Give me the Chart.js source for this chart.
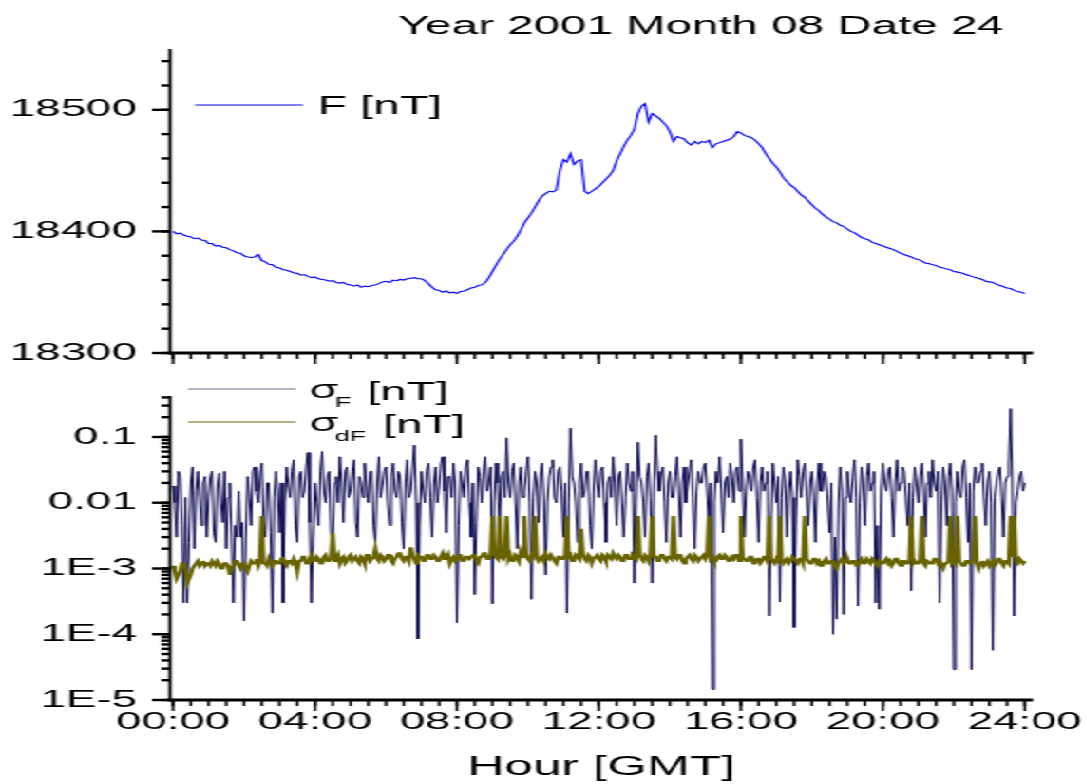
<!DOCTYPE html>
<html><head><meta charset="utf-8">
<script src="https://cdn.jsdelivr.net/npm/chart.js@4.4.1/dist/chart.umd.min.js"></script>
<style>
html,body{margin:0;padding:0;background:#fff;overflow:hidden;width:1087px;height:784px;}
#wrap{position:absolute;left:0;top:0;width:572px;height:784px;transform:scaleX(1.9);transform-origin:0 0;}
#c1{position:absolute;left:0;top:0;}
#c2{position:absolute;left:0;top:375px;}
</style></head><body>
<div id="wrap">
<canvas id="c1" width="572" height="375" style="width:572px;height:375px"></canvas>
<canvas id="c2" width="572" height="409" style="width:572px;height:409px"></canvas>
</div>
<script>
// ---------------- data ----------------
const titleText = 'Year 2001 Month 08 Date 24';
const fStepHours = 0.1;       // F sampled every 6 min, 00:00 .. 24:00
const sigmaStepHours = 0.05;  // sigma series sampled every 3 min, 00:00 .. 24:00

const fTotal = [
18400,18398,18398.5,18397,18396,18395.5,18394,18394.5,18393,18392.5,
18390,18390,18388,18388.5,18387,18386.5,18385,18384,18382.5,18382,
18380,18379,18378.5,18379,18381,18376,18375,18373,18372.5,18370.5,
18370,18368.5,18368,18367,18366,18365.5,18364,18364.5,18363,18362,
18362.5,18361,18360.5,18360,18359,18359.5,18358,18357.5,18358,18356.5,
18356,18355,18356,18354,18355,18354.5,18355.5,18356,18357,18358.5,
18359,18358,18360,18359.5,18360.5,18360,18361,18361.5,18362,18361,
18361,18359.5,18357,18354,18352,18351.5,18350,18351,18349.5,18350,
18349,18350.5,18351,18352,18353.5,18354,18355.5,18356,18358,18362,
18367,18372,18377,18381,18385,18389,18392,18396,18401,18407,
18411,18415,18420,18425,18429,18431,18433,18432.5,18434,18450,
18459,18457,18464,18455,18458,18459,18433,18431,18433,18435,
18437,18440,18443,18446,18450,18458,18464,18470,18475,18479,
18484,18497,18503,18505,18490,18497,18495,18493,18490,18487,
18482,18474,18478,18477,18476,18473,18471,18474,18472,18474,
18473,18475,18469,18472,18473,18474,18475,18476,18478,18482,
18481,18479,18478,18477,18475,18472,18469,18464,18460,18456,
18453,18449,18444,18441,18438,18436,18433,18430,18428,18425,
18422,18419,18417,18414,18412,18410,18408,18407,18405,18404,
18402,18400,18399,18397,18395,18394,18393,18391,18390,18389,
18388,18387,18386,18385,18383.5,18382,18381,18380,18379,18377.5,
18377,18375.5,18374,18373.5,18372.5,18372,18370.5,18370,18369,18368.5,
18367,18366.5,18366,18365,18364,18363,18362,18361.5,18360.5,18359,
18358.5,18358,18356.5,18355.5,18354.5,18353.5,18353,18351.5,18350.5,18350,
18349
];

const sigmaF = [
0.018,0.01,0.003,0.03,0.025,0.0045,0.0003,0.012,0.0003,0.0025,0.02,0.035,0.002,0.015,0.03,0.012,0.0045,0.02,0.025,0.003,
0.012,0.025,0.03,0.0035,0.0025,0.018,0.028,0.01,0.005,0.03,0.002,0.012,0.02,0.003,0.0003,0.0045,0.003,0.015,0.003,0.005,
0.00016,0.003,0.025,0.012,0.0045,0.03,0.035,0.015,0.01,0.025,0.04,0.005,0.003,0.02,0.02,0.0035,0.00021,0.012,0.03,0.015,
0.0035,0.02,0.0003,0.01,0.035,0.018,0.012,0.03,0.045,0.0045,0.0025,0.025,0.03,0.012,0.015,0.035,0.058,0.005,0.0003,0.003,
0.02,0.01,0.0045,0.03,0.06,0.015,0.01,0.025,0.03,0.0035,0.002,0.02,0.025,0.01,0.05,0.02,0.005,0.03,0.035,0.012,
0.015,0.03,0.045,0.005,0.003,0.025,0.02,0.012,0.04,0.018,0.01,0.03,0.03,0.0045,0.0025,0.02,0.05,0.012,0.018,0.03,
0.035,0.01,0.0045,0.025,0.04,0.015,0.012,0.03,0.025,0.005,0.002,0.02,0.045,0.012,0.015,0.035,0.075,0.01,0.000085,0.0045,
0.03,0.015,0.01,0.03,0.04,0.012,0.003,0.02,0.035,0.01,0.018,0.04,0.05,0.015,0.0035,0.025,0.025,0.012,0.04,0.02,
0.00015,0.0045,0.03,0.02,0.012,0.035,0.045,0.01,0.003,0.02,0.0004,0.005,0.035,0.025,0.01,0.03,0.05,0.015,0.02,0.035,
0.00029,0.01,0.04,0.02,0.0045,0.025,0.03,0.012,0.097,0.02,0.012,0.03,0.04,0.01,0.002,0.02,0.035,0.012,0.015,0.03,
0.05,0.01,0.00034,0.012,0.03,0.02,0.005,0.025,0.04,0.012,0.0008,0.01,0.025,0.035,0.045,0.012,0.01,0.03,0.035,0.015,
0.003,0.02,0.00021,0.01,0.136,0.025,0.02,0.01,0.0025,0.02,0.04,0.012,0.015,0.03,0.03,0.0045,0.002,0.015,0.045,0.02,
0.012,0.03,0.035,0.01,0.0025,0.02,0.025,0.012,0.05,0.02,0.0045,0.025,0.03,0.01,0.003,0.012,0.04,0.02,0.015,0.03,
0.0006,0.01,0.083,0.025,0.02,0.01,0.003,0.025,0.04,0.012,0.0006,0.015,0.107,0.03,0.015,0.025,0.035,0.01,0.0025,0.02,
0.03,0.012,0.012,0.025,0.05,0.015,0.003,0.02,0.035,0.01,0.018,0.03,0.045,0.012,0.002,0.015,0.03,0.02,0.02,0.035,
0.04,0.015,0.0045,0.02,0.0000145,0.01,0.03,0.02,0.05,0.015,0.0035,0.02,0.025,0.012,0.04,0.025,0.01,0.03,0.035,0.015,
0.093,0.02,0.003,0.015,0.03,0.025,0.015,0.035,0.045,0.012,0.0025,0.02,0.035,0.015,0.02,0.03,0.00019,0.0045,0.04,0.02,
0.01,0.025,0.00031,0.012,0.035,0.02,0.003,0.015,0.03,0.012,0.000127,0.0045,0.045,0.025,0.012,0.03,0.04,0.015,0.0045,0.02,
0.03,0.012,0.0025,0.02,0.04,0.015,0.015,0.03,0.025,0.01,0.0035,0.02,0.0001,0.003,0.00017,0.01,0.035,0.015,0.0002,0.012,
0.03,0.015,0.01,0.025,0.045,0.012,0.00027,0.01,0.035,0.02,0.0045,0.025,0.04,0.015,0.02,0.03,0.0003,0.0045,0.00024,0.015,
0.04,0.02,0.015,0.03,0.035,0.012,0.003,0.02,0.045,0.015,0.02,0.035,0.03,0.012,0.0045,0.02,0.00046,0.012,0.035,0.02,
0.01,0.025,0.04,0.015,0.003,0.02,0.03,0.012,0.045,0.02,0.015,0.03,0.0003,0.01,0.035,0.02,0.0045,0.025,0.04,0.015,
0.000029,0.01,0.03,0.015,0.012,0.035,0.045,0.012,0.0025,0.02,0.000029,0.015,0.035,0.02,0.02,0.03,0.04,0.012,0.0045,0.02,
0.03,0.01,0.000057,0.012,0.02,0.03,0.035,0.012,0.003,0.02,0.025,0.04,0.27,0.02,0.00019,0.01,0.015,0.025,0.03,0.015,
0.02
];

const sigmaDF = [
0.0011,0.0009,0.0007,0.0008,0.0009,0.0012,0.0012,0.0010,0.0006,0.0007,0.0008,0.0010,0.0011,0.0012,0.0013,0.0011,0.0012,0.0013,0.0011,0.0012,
0.0012,0.0011,0.0013,0.0012,0.0011,0.0013,0.0012,0.0010,0.0010,0.0012,0.0012,0.0011,0.0008,0.0010,0.0011,0.0013,0.0013,0.0011,0.0010,0.0012,
0.0012,0.0010,0.0009,0.0011,0.0013,0.0012,0.0012,0.0014,0.0011,0.0013,0.0063,0.0012,0.0012,0.0011,0.0014,0.0012,0.0011,0.0013,0.0013,0.0012,
0.0012,0.0014,0.0015,0.0012,0.0011,0.0013,0.0013,0.0012,0.0014,0.0012,0.0009,0.0013,0.0013,0.0015,0.0015,0.0012,0.0012,0.0014,0.0016,0.0013,
0.0013,0.0015,0.0014,0.0012,0.0012,0.0015,0.0016,0.0013,0.0013,0.0014,0.0035,0.0013,0.0014,0.0016,0.0012,0.0014,0.0015,0.0012,0.0013,0.0015,
0.0016,0.0013,0.0014,0.0015,0.0013,0.0012,0.0015,0.0014,0.0012,0.0016,0.0016,0.0013,0.0014,0.0015,0.0020,0.0014,0.0013,0.0016,0.0015,0.0013,
0.0014,0.0016,0.0016,0.0013,0.0012,0.0014,0.0015,0.0017,0.0017,0.0014,0.0013,0.0015,0.0015,0.0013,0.0021,0.0016,0.0014,0.0012,0.0016,0.0015,
0.0015,0.0013,0.0013,0.0016,0.0016,0.0014,0.0014,0.0016,0.0015,0.0013,0.0013,0.0015,0.0017,0.0014,0.0014,0.0016,0.0012,0.0014,0.0015,0.0013,
0.0014,0.0016,0.0016,0.0013,0.0013,0.0015,0.0015,0.0014,0.0014,0.0016,0.0016,0.0013,0.0012,0.0015,0.0015,0.0017,0.0017,0.0014,0.0014,0.0016,
0.0063,0.0016,0.0015,0.0014,0.0063,0.0015,0.0014,0.0016,0.0063,0.0014,0.0016,0.0013,0.0013,0.0016,0.0015,0.0013,0.0018,0.0015,0.0063,0.0016,
0.0014,0.0013,0.0016,0.0015,0.0063,0.0016,0.0013,0.0014,0.0015,0.0013,0.0017,0.0015,0.0014,0.0016,0.0016,0.0013,0.0012,0.0015,0.0015,0.0014,
0.0014,0.0016,0.0063,0.0015,0.0016,0.0013,0.0013,0.0016,0.0015,0.0014,0.0040,0.0016,0.0014,0.0013,0.0016,0.0015,0.0012,0.0014,0.0015,0.0016,
0.0014,0.0013,0.0016,0.0015,0.0013,0.0016,0.0015,0.0014,0.0017,0.0015,0.0014,0.0016,0.0015,0.0013,0.0013,0.0016,0.0016,0.0014,0.0014,0.0016,
0.0015,0.0014,0.0063,0.0016,0.0014,0.0013,0.0016,0.0015,0.0013,0.0016,0.0063,0.0015,0.0015,0.0013,0.0014,0.0016,0.0016,0.0014,0.0013,0.0015,
0.0015,0.0014,0.0063,0.0015,0.0014,0.0016,0.0016,0.0013,0.0012,0.0014,0.0015,0.0016,0.0014,0.0013,0.0016,0.0015,0.0013,0.0014,0.0015,0.0016,
0.0014,0.0016,0.0063,0.0014,0.0015,0.0013,0.0013,0.0015,0.0016,0.0014,0.0014,0.0016,0.0015,0.0013,0.0013,0.0015,0.0014,0.0016,0.0016,0.0013,
0.0063,0.0015,0.0014,0.0013,0.0013,0.0015,0.0015,0.0012,0.0012,0.0014,0.0014,0.0012,0.0013,0.0015,0.0015,0.0013,0.0063,0.0014,0.0013,0.0012,
0.0014,0.0013,0.0063,0.0014,0.0012,0.0013,0.0014,0.0012,0.0013,0.0015,0.0015,0.0013,0.0012,0.0014,0.0014,0.0012,0.0063,0.0014,0.0013,0.0012,
0.0012,0.0014,0.0014,0.0012,0.0013,0.0011,0.0011,0.0013,0.0014,0.0012,0.0012,0.0013,0.0013,0.0011,0.0010,0.0012,0.0013,0.0014,0.0012,0.0013,
0.0014,0.0012,0.0012,0.0013,0.0013,0.0011,0.0011,0.0013,0.0014,0.0012,0.0012,0.0014,0.0013,0.0012,0.0014,0.0013,0.0012,0.0011,0.0013,0.0012,
0.0012,0.0013,0.0014,0.0012,0.0013,0.0011,0.0012,0.0014,0.0014,0.0012,0.0011,0.0013,0.0013,0.0012,0.0012,0.0014,0.0063,0.0012,0.0013,0.0012,
0.0012,0.0013,0.0063,0.0012,0.0011,0.0013,0.0013,0.0012,0.0012,0.0014,0.0014,0.0012,0.0013,0.0011,0.0010,0.0012,0.0012,0.0013,0.0063,0.0012,
0.0013,0.0012,0.0063,0.0013,0.0012,0.0011,0.0011,0.0013,0.0013,0.0012,0.0012,0.0014,0.0063,0.0012,0.0010,0.0012,0.0013,0.0011,0.0012,0.0013,
0.0011,0.0012,0.0013,0.0011,0.0012,0.0014,0.0014,0.0012,0.0011,0.0013,0.0013,0.0012,0.0063,0.0015,0.0063,0.0013,0.0012,0.0014,0.0013,0.0012,
0.0013
];

const xTickHours  = [0, 4, 8, 12, 16, 20, 24];
const xTickLabels = ['00:00', '04:00', '08:00', '12:00', '16:00', '20:00', '24:00'];
const fTickValues = [18300, 18400, 18500];
const fTickLabels = ['18300', '18400', '18500'];
const sigmaTickValues = [1e-5, 1e-4, 1e-3, 0.01, 0.1];
const sigmaTickLabels = ['1E-5', '1E-4', '1E-3', '0.01', '0.1'];

// sample times (hours) of the regularly sampled series
const fHours = fTotal.map((_, i) => Math.round(i * fStepHours * 1000) / 1000);
const sigmaHours = sigmaF.map((_, i) => Math.round(i * sigmaStepHours * 1000) / 1000);
const pairs = (xs, ys) => ys.map((v, i) => ({x: xs[i], y: v}));

// ---------------- layout / style ----------------
const FONT = "'Liberation Sans', Arial, sans-serif";
const S = 1.9;                 // horizontal stretch of the whole drawing
const AXIS_LEFT = 170 / S;     // internal px
const PAD_RIGHT = 572 - 1033 / S;
const X_MIN = -0.085, X_MAX = 24.23;

Chart.defaults.font.family = FONT;
Chart.defaults.color = '#000';

function labelFor(values, labels, v) {
  for (let i = 0; i < values.length; i++) {
    if (Math.abs(values[i] - v) <= Math.abs(values[i]) * 1e-6) return labels[i];
  }
  return '';
}
function minorTicksLinear(lo, hi, step) {
  const out = [];
  for (let v = lo; v <= hi + 1e-9; v += step) out.push(+v.toFixed(6));
  return out;
}
function minorTicksLog(minExp, maxVal) {
  const out = [];
  for (let e = minExp; e <= 0; e++) {
    for (let m = 1; m <= 9; m++) {
      const v = m * Math.pow(10, e);
      if (v <= maxVal + 1e-12) out.push(v);
    }
  }
  return out;
}

const framePlugin = {
  id: 'frame',
  afterDatasetsDraw(chart, args, o) {
    const {ctx, chartArea: a, scales: {x, y}} = chart;
    ctx.save();
    ctx.strokeStyle = '#000';
    ctx.lineCap = 'butt';
    const seg = (x1, y1, x2, y2) => { ctx.beginPath(); ctx.moveTo(x1, y1); ctx.lineTo(x2, y2); ctx.stroke(); };
    ctx.lineWidth = 2.4;
    for (const v of o.yMinor) { const p = y.getPixelForValue(v); if (p >= a.top - 0.5 && p <= a.bottom + 0.5) seg(a.left - 4.6, p, a.left, p); }
    for (const v of o.yMajor) { const p = y.getPixelForValue(v); seg(a.left - 9.5, p, a.left, p); }
    ctx.lineWidth = 1.4;
    for (const v of o.xMinor) { const p = x.getPixelForValue(v); seg(p, a.bottom, p, a.bottom + 6); }
    for (const v of o.xMajor) { const p = x.getPixelForValue(v); seg(p, a.bottom, p, a.bottom + 11); }
    ctx.lineWidth = 1.7;
    seg(a.left, a.top, a.left, a.bottom + 1.5);
    ctx.lineWidth = 3;
    seg(a.left - 0.85, a.bottom, a.right, a.bottom);
    if (o.title) {
      ctx.fillStyle = '#000';
      ctx.font = o.title.size + 'px ' + FONT;
      ctx.textAlign = 'left';
      ctx.textBaseline = 'alphabetic';
      ctx.fillText(o.title.text, o.title.x, o.title.y);
    }
    for (const it of (o.legend || [])) {
      ctx.strokeStyle = it.color;
      ctx.lineWidth = it.width;
      seg(it.x1, it.y, it.x2, it.y);
      ctx.fillStyle = '#000';
      ctx.textAlign = 'left';
      ctx.textBaseline = 'alphabetic';
      for (const p of it.parts) {
        ctx.font = p.size + 'px ' + FONT;
        ctx.fillText(p.text, p.x, p.y);
      }
    }
    ctx.restore();
  }
};

function xScale(showLabels, height, title) {
  return {
    type: 'linear', min: X_MIN, max: X_MAX,
    grid: {display: false, drawTicks: false},
    border: {display: false},
    afterBuildTicks: s => { s.ticks = xTickHours.map(v => ({value: v})); },
    ticks: {
      display: showLabels, autoSkip: false, maxRotation: 0, minRotation: 0, padding: 8,
      font: {size: 24, family: FONT}, color: '#000',
      callback: v => labelFor(xTickHours, xTickLabels, v)
    },
    title: title ? {display: true, text: title, font: {size: 27, family: FONT}, color: '#000', padding: {top: 0, bottom: 0}} : {display: false},
    afterFit: s => { s.height = height; s.paddingLeft = 0; s.paddingRight = 0; }
  };
}

const xMinor = minorTicksLinear(0, 24, 0.5);

// ---------------- top panel: F ----------------
new Chart(document.getElementById('c1'), {
  type: 'line',
  data: {
    datasets: [{label: 'F [nT]', data: pairs(fHours, fTotal), borderColor: '#0000ff', borderWidth: 1.1, pointRadius: 0, tension: 0, fill: false}]
  },
  options: {
    responsive: false, animation: false, devicePixelRatio: 1,
    layout: {padding: {left: 0, right: PAD_RIGHT, top: 49, bottom: 0}},
    plugins: {
      legend: {display: false}, tooltip: {enabled: false}, title: {display: false},
      frame: {
        yMajor: fTickValues, yMinor: minorTicksLinear(18300, 18550, 20),
        xMajor: xTickHours, xMinor: xMinor,
        title: {text: titleText, size: 25, x: 398 / S, y: 34},
        legend: [{color: '#0000ff', width: 1, x1: 195 / S, x2: 303 / S, y: 105,
                  parts: [{text: 'F [nT]', size: 25, x: 318 / S, y: 114}]}]
      }
    },
    scales: {
      x: xScale(false, 22, null),
      y: {
        type: 'linear', min: 18300, max: 18550,
        grid: {display: false, drawTicks: false}, border: {display: false},
        afterBuildTicks: s => { s.ticks = fTickValues.map(v => ({value: v})); },
        ticks: {autoSkip: false, padding: 17.5, font: {size: 24, family: FONT}, color: '#000',
                callback: v => labelFor(fTickValues, fTickLabels, v)},
        afterFit: s => { s.width = AXIS_LEFT; s.paddingTop = 0; s.paddingBottom = 0; }
      }
    }
  },
  plugins: [framePlugin]
});

// ---------------- bottom panel: sigma F, sigma dF ----------------
new Chart(document.getElementById('c2'), {
  type: 'line',
  data: {
    datasets: [
      {label: 'σF [nT]', data: pairs(sigmaHours, sigmaF), borderColor: '#0a0a50', borderWidth: 1, pointRadius: 0, tension: 0, fill: false, order: 2},
      {label: 'σdF [nT]', data: pairs(sigmaHours, sigmaDF), borderColor: '#686200', borderWidth: 2.2, pointRadius: 0, tension: 0, fill: false, order: 1}
    ]
  },
  options: {
    responsive: false, animation: false, devicePixelRatio: 1,
    layout: {padding: {left: 0, right: PAD_RIGHT, top: 21, bottom: 0}},
    plugins: {
      legend: {display: false}, tooltip: {enabled: false}, title: {display: false},
      frame: {
        yMajor: sigmaTickValues, yMinor: minorTicksLog(-5, 0.42),
        xMajor: xTickHours, xMinor: xMinor,
        legend: [
          {color: '#6a6a98', width: 1, x1: 188 / S, x2: 296 / S, y: 14,
           parts: [{text: 'σ', size: 25, x: 309 / S, y: 23},
                   {text: 'F', size: 14, x: 335 / S, y: 32},
                   {text: '[nT]', size: 25, x: 367 / S, y: 25}]},
          {color: '#686200', width: 1.2, x1: 188 / S, x2: 296 / S, y: 47,
           parts: [{text: 'σ', size: 25, x: 309 / S, y: 56},
                   {text: 'dF', size: 14, x: 335 / S, y: 66},
                   {text: '[nT]', size: 25, x: 383 / S, y: 58}]}
        ]
      }
    },
    scales: {
      x: xScale(true, 84, 'Hour [GMT]'),
      y: {
        type: 'logarithmic', min: 1e-5, max: 0.42,
        grid: {display: false, drawTicks: false}, border: {display: false},
        afterBuildTicks: s => { s.ticks = sigmaTickValues.map(v => ({value: v})); },
        ticks: {autoSkip: false, padding: 17.5, font: {size: 24, family: FONT}, color: '#000',
                callback: v => labelFor(sigmaTickValues, sigmaTickLabels, v)},
        afterFit: s => { s.width = AXIS_LEFT; s.paddingTop = 0; s.paddingBottom = 0; }
      }
    }
  },
  plugins: [framePlugin]
});
</script>
</body></html>
